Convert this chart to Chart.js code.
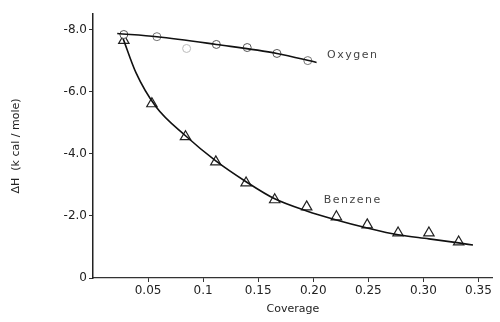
<!DOCTYPE html>
<html>
<head>
<meta charset="utf-8">
<script src="https://cdn.jsdelivr.net/npm/chart.js@4"></script>
<style>
  html, body { margin: 0; padding: 0; background: #fff; }
  #wrap { width: 500px; height: 322px; }
</style>
</head>
<body>
<div id="wrap"><canvas id="c" width="500" height="322"></canvas></div>
<script>
// ---- data ----
const oxygenCoverage = [0.028, 0.058, 0.085, 0.112, 0.140, 0.167, 0.195];
const oxygenDH       = [-7.84, -7.77, -7.39, -7.52, -7.42, -7.23, -7.00];
const oxygenFitX     = [0.022, 0.058, 0.112, 0.167, 0.203];
const oxygenFitY     = [-7.87, -7.77, -7.52, -7.23, -6.94];

const benzeneCoverage = [0.028, 0.0535, 0.084, 0.1115, 0.139, 0.165, 0.194, 0.221, 0.249, 0.277, 0.305, 0.332];
const benzeneDH       = [-7.65, -5.61, -4.55, -3.74, -3.06, -2.52, -2.29, -1.97, -1.71, -1.45, -1.45, -1.16];
const benzeneFitX     = [0.027, 0.039, 0.057, 0.084, 0.1115, 0.139, 0.165, 0.194, 0.221, 0.249, 0.277, 0.305, 0.332, 0.345];
const benzeneFitY     = [-7.74, -6.61, -5.52, -4.58, -3.77, -3.10, -2.55, -2.16, -1.87, -1.61, -1.39, -1.26, -1.13, -1.06];

const xTickValues = [0.05, 0.10, 0.15, 0.20, 0.25, 0.30, 0.35];
const xTickLabels = ['0.05', '0.1', '0.15', '0.20', '0.25', '0.30', '0.35'];
const yTickValues = [-8, -6, -4, -2, 0];
const yTickLabels = ['-8.0', '-6.0', '-4.0', '-2.0', '0'];

const seriesLabels = [
  { text: 'Oxygen',  x: 0.2125, y: -7.19 },
  { text: 'Benzene', x: 0.2095, y: -2.52 }
];

const pts = (xs, ys) => xs.map((x, i) => ({ x, y: ys[i] }));

const labelPlugin = {
  id: 'seriesLabels',
  afterDatasetsDraw(chart) {
    const { ctx, scales } = chart;
    ctx.save();
    ctx.font = '11px "DejaVu Sans", sans-serif';
    ctx.fillStyle = '#444';
    ctx.textBaseline = 'middle';
    ctx.textAlign = 'left';
    try { ctx.letterSpacing = '1.5px'; } catch (e) {}
    seriesLabels.forEach(l => {
      ctx.fillText(l.text, scales.x.getPixelForValue(l.x), scales.y.getPixelForValue(l.y));
    });
    ctx.restore();
  }
};

new Chart(document.getElementById('c'), {
  type: 'scatter',
  data: {
    datasets: [
      {
        label: 'Oxygen fit',
        data: pts(oxygenFitX, oxygenFitY),
        showLine: true,
        pointRadius: 0,
        borderColor: '#111',
        borderWidth: 1.6,
        cubicInterpolationMode: 'monotone'
      },
      {
        label: 'Oxygen',
        data: pts(oxygenCoverage, oxygenDH),
        showLine: false,
        pointStyle: 'circle',
        pointRadius: 4,
        pointBackgroundColor: '#fff',
        pointBorderColor: ['#555', '#777', '#bbb', '#555', '#555', '#555', '#777'],
        pointBorderWidth: 1
      },
      {
        label: 'Benzene fit',
        data: pts(benzeneFitX, benzeneFitY),
        showLine: true,
        pointRadius: 0,
        borderColor: '#111',
        borderWidth: 1.6,
        cubicInterpolationMode: 'monotone'
      },
      {
        label: 'Benzene',
        data: pts(benzeneCoverage, benzeneDH),
        showLine: false,
        pointStyle: 'triangle',
        pointRadius: 6,
        pointBackgroundColor: '#fff',
        pointBorderColor: '#222',
        pointBorderWidth: 1.2
      }
    ]
  },
  options: {
    responsive: false,
    animation: false,
    devicePixelRatio: 1,
    layout: { padding: { left: 0, right: 5, top: 14, bottom: 0 } },
    plugins: { legend: { display: false }, tooltip: { enabled: false } },
    scales: {
      x: {
        type: 'linear',
        min: 0,
        max: 0.363,
        afterBuildTicks: s => { s.ticks = xTickValues.map(v => ({ value: v })); },
        afterFit: s => { s.height = 44; },
        border: { display: true, color: '#333', width: 1.2 },
        grid: { display: true, drawOnChartArea: false, drawTicks: true, tickLength: 4, color: '#333' },
        ticks: {
          color: '#222',
          font: { family: '"DejaVu Sans", sans-serif', size: 12 },
          padding: 2,
          maxRotation: 0,
          autoSkip: false,
          callback: (v) => { const i = xTickValues.findIndex(t => Math.abs(t - v) < 1e-9); return i >= 0 ? xTickLabels[i] : ''; }
        },
        title: {
          display: true,
          text: 'Coverage',
          color: '#222',
          font: { family: '"DejaVu Sans", sans-serif', size: 11 },
          padding: { top: 4, bottom: 6 }
        }
      },
      y: {
        type: 'linear',
        reverse: true,
        min: -8.5,
        max: 0,
        afterBuildTicks: s => { s.ticks = yTickValues.map(v => ({ value: v })); },
        afterFit: s => { s.width = 93; },
        border: { display: true, color: '#222', width: 1.5 },
        grid: { display: true, drawOnChartArea: false, drawTicks: true, tickLength: 4, color: '#333' },
        ticks: {
          color: '#222',
          font: { family: '"DejaVu Sans", sans-serif', size: 12 },
          padding: 2,
          autoSkip: false,
          callback: (v) => { const i = yTickValues.indexOf(v); return i >= 0 ? yTickLabels[i] : ''; }
        },
        title: {
          display: true,
          text: 'ΔH  (k cal / mole)',
          color: '#222',
          font: { family: '"DejaVu Sans", sans-serif', size: 11 },
          padding: { top: 10, bottom: 0 }
        }
      }
    }
  },
  plugins: [labelPlugin]
});
</script>
</body>
</html>
